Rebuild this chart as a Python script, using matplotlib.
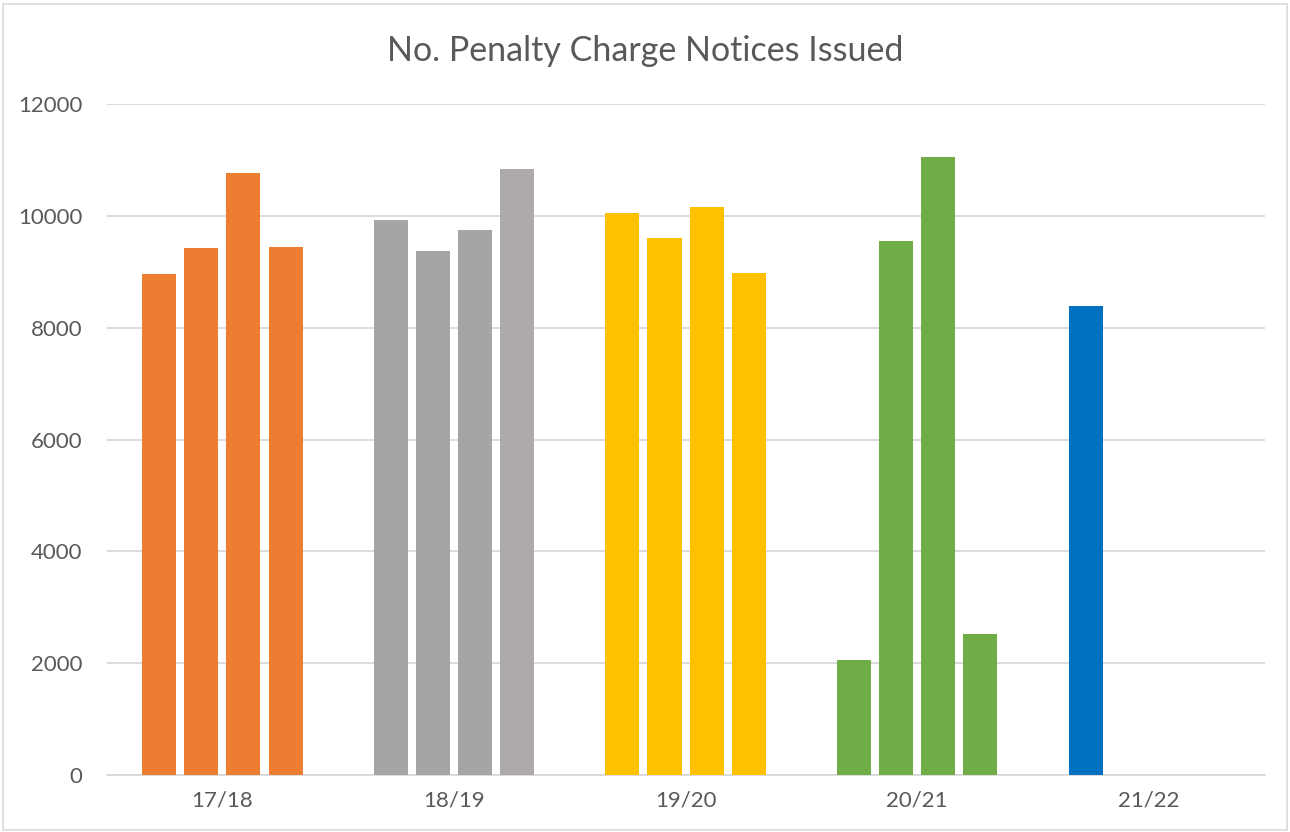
import numpy as np
import matplotlib.pyplot as plt
from matplotlib.patches import Rectangle

# financial years and quarterly counts
years = ["17/18", "18/19", "19/20", "20/21", "21/22"]
q_values = [
    [8960, 9425, 10765, 9440],
    [9925, 9370, 9745, 10835],
    [10050, 9600, 10155, 8975],
    [2055, 9550, 11050, 2520],
    [8385],
]
year_colors = ["#ED7D31", "#A5A5A5", "#FFC000", "#70AD47", "#0070C0"]
yticks = [0, 2000, 4000, 6000, 8000, 10000, 12000]

plt.rcParams['font.family'] = ['Lato', 'DejaVu Sans']

fig = plt.figure(figsize=(12.9, 8.32), dpi=100)
ax = fig.add_axes([0.0826, 0.0685, 0.8977, 0.8065])

step = 0.182
width = 0.147
for i, vals in enumerate(q_values):
    for j, v in enumerate(vals):
        c = year_colors[i]
        if i == 1 and j == 3:
            c = "#AEAAAA"
        ax.bar(i + (j - 1.5) * step, v, width=width, color=c, zorder=3)

ax.set_xlim(-0.5, len(years) - 0.5)
ax.set_ylim(0, 12000)
ax.set_xticks(range(len(years)))
ax.set_xticklabels(years)
ax.set_yticks(yticks)
ax.set_yticklabels([str(t) for t in yticks])
ax.tick_params(length=0, labelsize=16, colors="#595959")
ax.tick_params(axis='y', pad=17.5)
ax.tick_params(axis='x', pad=11)
ax.grid(axis='y', color="#D9D9D9", linewidth=1.3, zorder=0)
for s in ["top", "right", "left"]:
    ax.spines[s].set_visible(False)
ax.spines["bottom"].set_color("#D9D9D9")
ax.spines["bottom"].set_linewidth(1.3)

fig.text(0.5, 0.939, "No. Penalty Charge Notices Issued", ha="center", va="center",
         fontsize=24.5, color="#595959")

fig.patches.append(Rectangle((0.002, 0.002), 0.996, 0.993, transform=fig.transFigure,
                             fill=False, edgecolor="#D9D9D9", linewidth=1.2))

fig.savefig("out.png")
